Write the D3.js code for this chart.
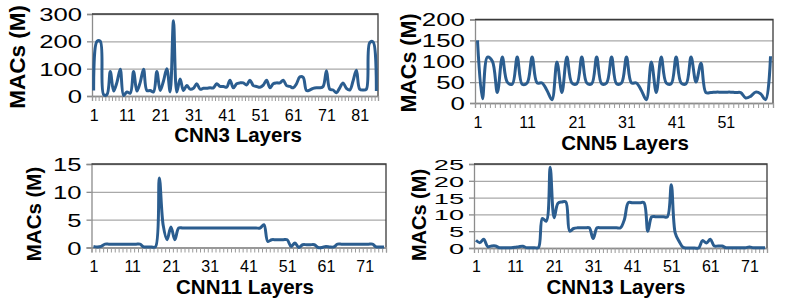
<!DOCTYPE html>
<html>
<head>
<meta charset="utf-8">
<script src="https://cdn.jsdelivr.net/npm/d3@7"></script>
<style>
  body { margin: 0; background: #fff; }
  svg { display: block; font-family: "Liberation Sans", Arial, sans-serif; }
</style>
</head>
<body>
<svg></svg>
<script>
const width = 789;
const height = 301;

// MACs (millions) per layer
const cnn3Macs = [
  20, 200, 200, 5, 5, 90, 18, 50, 98, 2,
  15, 10, 90, 18, 50, 98, 20, 20, 15, 90,
  20, 55, 100, 15, 275, 15, 62, 20, 38, 25,
  28, 45, 25, 28, 28, 30, 30, 45, 35, 35,
  32, 58, 30, 45, 48, 48, 40, 58, 38, 35,
  32, 40, 58, 30, 45, 48, 48, 58, 38, 35,
  30, 45, 70, 68, 20, 22, 28, 30, 30, 35,
  92, 25, 22, 12, 30, 48, 28, 22, 55, 94,
  25, 22, 25, 195, 198, 18
];
const cnn5Macs = [
  150, 10, 110, 100, 25, 110, 50, 45, 110, 45,
  48, 110, 48, 48, 30, 8, 98, 25, 110, 48,
  46, 110, 48, 46, 110, 46, 48, 110, 46, 48,
  110, 48, 48, 30, 8, 98, 25, 110, 48, 46,
  110, 48, 46, 110, 50, 95, 25, 25, 26, 26,
  26, 26, 25, 25, 12, 16, 26, 22, 8, 112
];
const cnn11Macs = [
  0.2, 0.1, 0.2, 0.6, 0.6, 0.6, 0.6, 0.6, 0.6, 0.6,
  0.6, 0.6, 0.6, 0.1, 0.1, 0.1, 0.1, 12.5, 4, 1.4,
  3.7, 1.4, 3.5, 3.5, 3.5, 3.5, 3.5, 3.5, 3.5, 3.5,
  3.5, 3.5, 3.5, 3.5, 3.5, 3.5, 3.5, 3.5, 3.5, 3.5,
  3.5, 3.5, 3.5, 3.5, 4.1, 1.1, 1.4, 1.4, 1.4, 1.4,
  1.4, 0.2, 0.8, 0, 0.5, 0.5, 0.5, 0.5, 0, 0,
  0.2, 0.1, 0.1, 0.6, 0.6, 0.6, 0.6, 0.6, 0.6, 0.6,
  0.6, 0.6, 0.6, 0.1, 0.1, 0.1
];
const cnn13Macs = [
  2.3, 1.6, 2.6, 0.4, 0.6, 0.6, 0.1, 0.1, 0.1, 0.1,
  0.2, 0.4, 0.5, 0.1, 0.1, 0.1, 0.1, 8.8, 8, 24,
  9, 13.3, 13.7, 13.7, 5, 5.8, 6, 6, 6, 6,
  2.8, 6, 6, 6, 6, 6, 6, 6, 8.5, 13.5,
  13.5, 13.5, 13.5, 13.5, 5, 9.3, 9.3, 9.3, 9.3, 9.3,
  18.8, 4.5, 2, 0.2, 0, 0, 0, 0, 2.2, 1.5,
  2.6, 0.6, 0.6, 0.6, 0.1, 0.1, 0.1, 0.1, 0.1, 0.1,
  0.3, 0.1, 0.1, 0.1, 0.1
];

const cnn3YTicks = [0, 100, 200, 300];
const cnn5YTicks = [0, 50, 100, 150, 200];
const cnn11YTicks = [0, 5, 10, 15];
const cnn13YTicks = [0, 5, 10, 15, 20, 25];

const cnn3XLabels = [1, 11, 21, 31, 41, 51, 61, 71, 81];
const cnn5XLabels = [1, 11, 21, 31, 41, 51];
const cnn11XLabels = [1, 11, 21, 31, 41, 51, 61, 71];
const cnn13XLabels = [1, 11, 21, 31, 41, 51, 61, 71];

const panels = [
  { values: cnn3Macs, yTicks: cnn3YTicks, xLabels: cnn3XLabels, title: 'CNN3 Layers',
    left: 92, top: 14, right: 378, bottom: 96, labelSize: 19, labelStretch: 1.35,
    yTitleX: 25, yTitleY: 57, yTitleSize: 22.5, titleX: 238, titleY: 142, tickY: 120.5 },
  { values: cnn5Macs, yTicks: cnn5YTicks, xLabels: cnn5XLabels, title: 'CNN5 Layers',
    left: 475, top: 19.5, right: 773, bottom: 103, labelSize: 18.5, labelStretch: 1.4,
    yTitleX: 416, yTitleY: 63, yTitleSize: 21.5, titleX: 625, titleY: 149.5, tickY: 127.5 },
  { values: cnn11Macs, yTicks: cnn11YTicks, xLabels: cnn11XLabels, title: 'CNN11 Layers',
    left: 91.5, top: 164, right: 386, bottom: 247.5, labelSize: 19, labelStretch: 1.35,
    yTitleX: 41, yTitleY: 214, yTitleSize: 20.5, titleX: 245, titleY: 294, tickY: 271.5 },
  { values: cnn13Macs, yTicks: cnn13YTicks, xLabels: cnn13XLabels, title: 'CNN13 Layers',
    left: 474, top: 164, right: 767, bottom: 248, labelSize: 15.5, labelStretch: 1.75,
    yTitleX: 426, yTitleY: 215, yTitleSize: 20, titleX: 616, titleY: 294, tickY: 271.5 }
];

const svg = d3.select('svg')
  .attr('width', width)
  .attr('height', height);

function drawPanel(p) {
  const g = svg.append('g');
  const layers = d3.range(1, p.values.length + 1);

  const x = d3.scalePoint()
    .domain(layers)
    .range([p.left, p.right])
    .padding(0.5);

  // category boundaries for the small tick marks
  const xEdge = d3.scaleLinear()
    .domain([0, layers.length])
    .range([p.left, p.right]);

  const y = d3.scaleLinear()
    .domain([0, d3.max(p.yTicks)])
    .range([p.bottom, p.top]);

  // gridlines
  g.append('g')
    .attr('transform', `translate(${p.left},0)`)
    .call(d3.axisLeft(y).tickValues(p.yTicks).tickSize(-(p.right - p.left)).tickFormat(''))
    .call(s => s.select('.domain').remove())
    .call(s => s.selectAll('line').attr('stroke', '#a9a9a9').attr('stroke-width', 1.3));

  // y axis with labels (the figure's labels are drawn wide)
  g.append('g')
    .attr('transform', `translate(${p.left},0)`)
    .call(d3.axisLeft(y).tickValues(p.yTicks).tickSize(5).tickPadding(5))
    .call(s => s.select('.domain').attr('stroke', '#8c8c8c').attr('stroke-width', 1.3))
    .call(s => s.selectAll('line').attr('stroke', '#8c8c8c').attr('stroke-width', 1.3))
    .call(s => s.selectAll('text')
      .attr('x', -10 / p.labelStretch)
      .attr('dy', '0.35em')
      .attr('transform', `scale(${p.labelStretch},1)`)
      .attr('font-family', '"Liberation Sans", Arial, sans-serif')
      .attr('font-size', p.labelSize)
      .attr('fill', '#000'));

  // top and right frame
  g.append('path')
    .attr('d', `M${p.left},${p.top}H${p.right}V${p.bottom}`)
    .attr('fill', 'none')
    .attr('stroke', '#3a3a3a')
    .attr('stroke-width', 1.3);

  // x axis: minor ticks at each category
  g.append('g')
    .attr('transform', `translate(0,${p.bottom})`)
    .call(d3.axisBottom(xEdge).tickValues(d3.range(layers.length + 1)).tickSize(5).tickFormat(''))
    .call(s => s.select('.domain').attr('stroke', '#8c8c8c').attr('stroke-width', 1.3))
    .call(s => s.selectAll('line').attr('stroke', '#9a9a9a').attr('stroke-width', 1));

  // x tick labels
  g.append('g')
    .attr('transform', `translate(0,${p.tickY})`)
    .call(d3.axisBottom(x).tickValues(p.xLabels).tickSize(0).tickPadding(0))
    .call(s => s.select('.domain').remove())
    .call(s => s.selectAll('text')
      .attr('dy', 0)
      .attr('font-family', '"Liberation Sans", Arial, sans-serif')
      .attr('font-size', 16)
      .attr('fill', '#000'));

  // the series
  const line = d3.line()
    .x((d, i) => x(layers[i]))
    .y(d => y(d))
    .curve(d3.curveCatmullRom);

  g.append('path')
    .datum(p.values)
    .attr('d', line)
    .attr('fill', 'none')
    .attr('stroke', '#2b5d8f')
    .attr('stroke-width', 3)
    .attr('stroke-linejoin', 'round');

  // axis titles
  g.append('text')
    .attr('transform', `translate(${p.yTitleX},${p.yTitleY}) rotate(-90)`)
    .attr('text-anchor', 'middle')
    .attr('font-weight', 'bold')
    .attr('font-size', p.yTitleSize)
    .text('MACs (M)');

  g.append('text')
    .attr('x', p.titleX)
    .attr('y', p.titleY)
    .attr('text-anchor', 'middle')
    .attr('font-weight', 'bold')
    .attr('font-size', 20.5)
    .text(p.title);
}

panels.forEach(drawPanel);
</script>
</body>
</html>
